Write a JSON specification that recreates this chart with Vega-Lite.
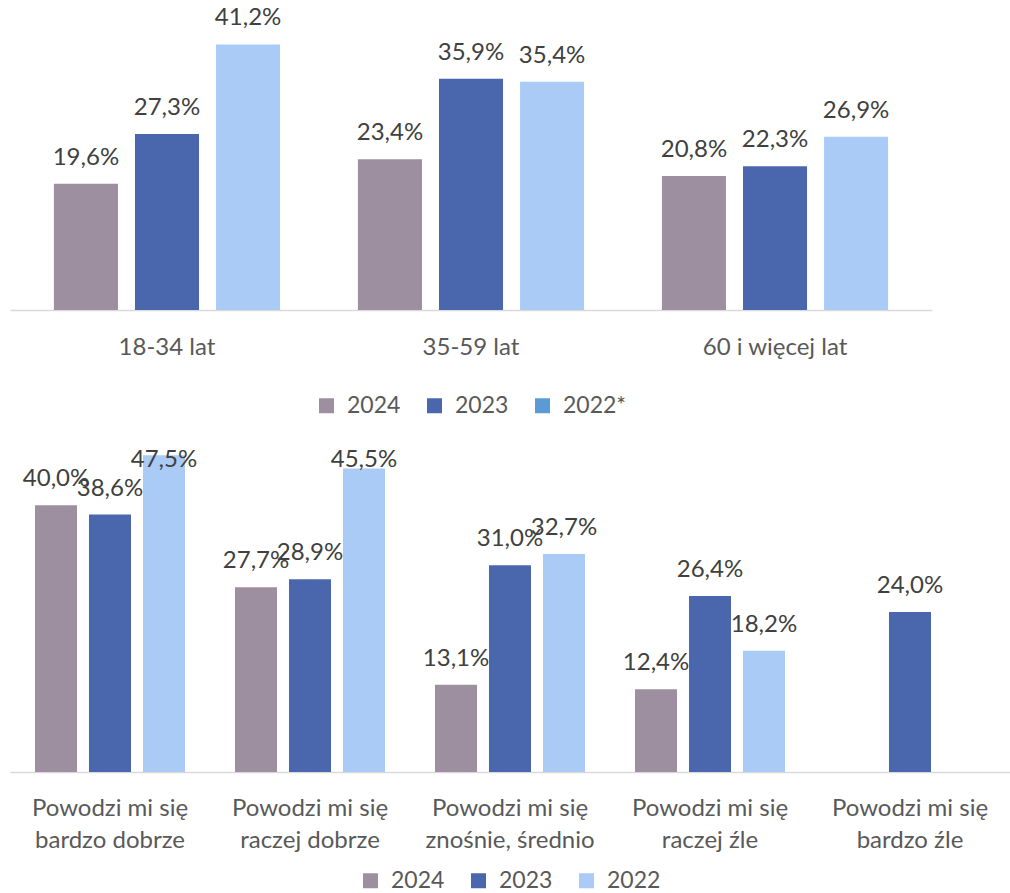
{
  "$schema": "https://vega.github.io/schema/vega-lite/v6.json",
  "padding": {"left": 10, "top": 0, "right": 0, "bottom": 0},
  "background": "white",
  "datasets": {
    "age": [
      {"group": "18-34 lat", "year": "2024", "value": 0.196},
      {"group": "18-34 lat", "year": "2023", "value": 0.273},
      {"group": "18-34 lat", "year": "2022*", "value": 0.412},
      {"group": "35-59 lat", "year": "2024", "value": 0.234},
      {"group": "35-59 lat", "year": "2023", "value": 0.359},
      {"group": "35-59 lat", "year": "2022*", "value": 0.354},
      {"group": "60 i więcej lat", "year": "2024", "value": 0.208},
      {"group": "60 i więcej lat", "year": "2023", "value": 0.223},
      {"group": "60 i więcej lat", "year": "2022*", "value": 0.269}
    ],
    "wealth": [
      {"group": "Powodzi mi się\nbardzo dobrze", "year": "2024", "value": 0.400},
      {"group": "Powodzi mi się\nbardzo dobrze", "year": "2023", "value": 0.386},
      {"group": "Powodzi mi się\nbardzo dobrze", "year": "2022", "value": 0.475},
      {"group": "Powodzi mi się\nraczej dobrze", "year": "2024", "value": 0.277},
      {"group": "Powodzi mi się\nraczej dobrze", "year": "2023", "value": 0.289},
      {"group": "Powodzi mi się\nraczej dobrze", "year": "2022", "value": 0.455},
      {"group": "Powodzi mi się\nznośnie, średnio", "year": "2024", "value": 0.131},
      {"group": "Powodzi mi się\nznośnie, średnio", "year": "2023", "value": 0.310},
      {"group": "Powodzi mi się\nznośnie, średnio", "year": "2022", "value": 0.327},
      {"group": "Powodzi mi się\nraczej źle", "year": "2024", "value": 0.124},
      {"group": "Powodzi mi się\nraczej źle", "year": "2023", "value": 0.264},
      {"group": "Powodzi mi się\nraczej źle", "year": "2022", "value": 0.182},
      {"group": "Powodzi mi się\nbardzo źle", "year": "2023", "value": 0.240}
    ]
  },
  "vconcat": [
    {
      "width": 922,
      "height": 310,
      "data": {"name": "age"},
      "encoding": {
        "x": {
          "field": "group", "type": "nominal", "sort": null, "title": null,
          "scale": {"paddingInner": 0, "paddingOuter": 0.0164},
          "axis": {"labelAngle": 0, "ticks": false, "tickSize": 0, "labelPadding": 25, "domainColor": "#D9D9D9", "domainWidth": 1.5}
        },
        "xOffset": {"field": "year", "type": "nominal", "sort": ["2024", "2023", "2022*"], "scale": {"paddingInner": 0.21, "paddingOuter": 0.48}},
        "y": {"field": "value", "type": "quantitative", "scale": {"domain": [0, 0.481]}, "axis": null}
      },
      "layer": [
        {
          "mark": {"type": "bar"},
          "encoding": {
            "color": {
              "condition": {"test": "datum.year === '2022*'", "value": "#ABCBF7"},
              "field": "year", "type": "nominal",
              "scale": {"domain": ["2024", "2023", "2022*"], "range": ["#9D8FA0", "#4A66AC", "#5B9BD5"]},
              "legend": {"title": null, "orient": "bottom", "direction": "horizontal", "offset": 35}
            }
          }
        },
        {
          "mark": {"type": "text", "baseline": "alphabetic", "dy": -19, "fontSize": 24, "font": "Lato", "color": "#404040"},
          "encoding": {"text": {"field": "value", "type": "quantitative", "format": ".1%"}}
        }
      ]
    },
    {
      "width": 1000,
      "height": 323,
      "data": {"name": "wealth"},
      "encoding": {
        "x": {
          "field": "group", "type": "nominal", "sort": null, "title": null,
          "scale": {"paddingInner": 0, "paddingOuter": 0},
          "axis": {"labelAngle": 0, "ticks": false, "tickSize": 0, "labelPadding": 24, "labelLineHeight": 32, "labelExpr": "split(datum.label, '\\n')", "domainColor": "#D9D9D9", "domainWidth": 1.5}
        },
        "xOffset": {"field": "year", "type": "nominal", "sort": ["2024", "2023", "2022"], "scale": {"paddingInner": 0.222, "paddingOuter": 0.463}},
        "y": {"field": "value", "type": "quantitative", "scale": {"domain": [0, 0.4844]}, "axis": null}
      },
      "layer": [
        {
          "mark": {"type": "bar"},
          "encoding": {
            "color": {
              "field": "year", "type": "nominal",
              "scale": {"domain": ["2024", "2023", "2022"], "range": ["#9D8FA0", "#4A66AC", "#ABCBF7"]},
              "legend": {"title": null, "orient": "bottom", "direction": "horizontal", "offset": 17}
            }
          }
        },
        {
          "transform": [{"filter": "datum.value <= 0.44"}],
          "mark": {"type": "text", "baseline": "alphabetic", "dy": -19, "fontSize": 24, "font": "Lato", "color": "#404040"},
          "encoding": {"text": {"field": "value", "type": "quantitative", "format": ".1%"}}
        },
        {
          "transform": [{"filter": "datum.value > 0.44"}],
          "mark": {"type": "text", "baseline": "alphabetic", "dy": 18, "fontSize": 24, "font": "Lato", "color": "#404040"},
          "encoding": {
            "y": {"datum": 0.4844, "type": "quantitative"},
            "text": {"field": "value", "type": "quantitative", "format": ".1%"}
          }
        }
      ]
    }
  ],
  "spacing": 30,
  "resolve": {
    "scale": {"color": "independent", "x": "independent", "y": "independent", "xOffset": "independent"},
    "legend": {"color": "independent"}
  },
  "config": {
    "locale": {"number": {"decimal": ",", "thousands": " ", "grouping": [3], "currency": ["", " zł"]}},
    "view": {"stroke": null},
    "font": "Lato",
    "axis": {"labelFont": "Lato", "labelFontSize": 24, "labelColor": "#595959", "grid": false},
    "legend": {
      "labelFont": "Lato", "labelFontSize": 23, "labelColor": "#595959",
      "symbolType": "square", "symbolSize": 225, "symbolStrokeWidth": 0, "symbolOpacity": 1,
      "labelOffset": 9, "columnPadding": 22, "padding": 0,
      "layout": {"bottom": {"anchor": "middle"}}
    }
  }
}
